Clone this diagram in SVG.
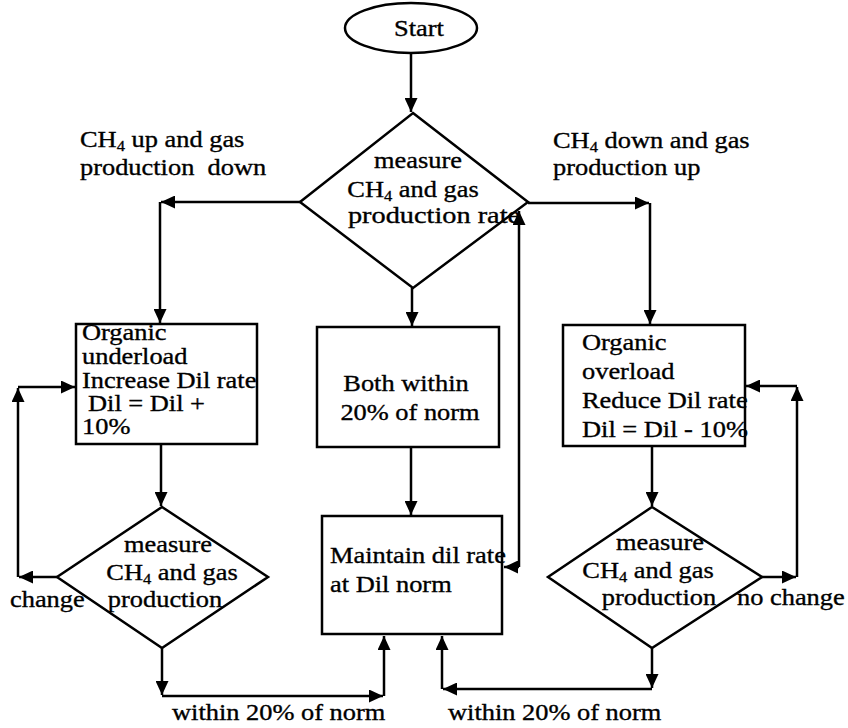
<svg xmlns="http://www.w3.org/2000/svg" width="848" height="728" viewBox="0 0 848 728">
<style>
.s{fill:none;stroke:#000;stroke-width:2.5}
.n{fill:#fff;stroke:#000;stroke-width:2.5}
.t{font-family:"Liberation Serif","Times New Roman",serif;font-size:24px;fill:#000;stroke:#000;stroke-width:0.35}
.m{text-anchor:middle}
.c{stroke:#000;stroke-width:2.5;fill:none;marker-end:url(#ah)}
</style>
<defs>
<marker id="ah" markerUnits="userSpaceOnUse" markerWidth="15" markerHeight="13" refX="14" refY="6.5" orient="auto" viewBox="0 0 15 13">
<path d="M0,0 L14,6.5 L0,13 z" fill="#000"/>
</marker>
</defs>
<g id="connectors">
<path class="c" d="M411,53 V112"/>
<path class="c" d="M300,202 H161"/>
<path class="c" d="M160,202 V323"/>
<path class="c" d="M528,203 H649"/>
<path class="c" d="M650,203 V324"/>
<path class="c" d="M412,288 V326"/>
<path class="c" d="M411,447 V515"/>
<path class="c" d="M519,567 H504"/>
<path class="c" d="M519,567 V211"/>
<path class="c" d="M161,444 V506"/>
<path class="c" d="M57,577 H19"/>
<path class="c" d="M18,577 V388"/>
<path class="c" d="M18,387 H75"/>
<path class="c" d="M162,648 V695"/>
<path class="c" d="M162,696 H383"/>
<path class="c" d="M384,696 V636"/>
<path class="c" d="M652,446 V506"/>
<path class="c" d="M762,577 H796"/>
<path class="c" d="M797,577 V387"/>
<path class="c" d="M797,386 H746"/>
<path class="c" d="M652,648 V688"/>
<path class="c" d="M652,689 H443"/>
<path class="c" d="M442,689 V636"/>
</g>
<g id="start">
<ellipse class="n" cx="411" cy="28" rx="66" ry="25"/>
<text class="t m" transform="translate(419,36) scale(1.1,1)">Start</text>
</g>
<g id="measure1">
<polygon class="n" points="413,113 528,202 413,288 300,202"/>
<text class="t m" transform="translate(418,168) scale(1.1,1)">measure</text>
<text class="t m" transform="translate(413,197) scale(1.1,1)">CH<tspan font-size="15" dy="4">4</tspan><tspan dy="-4"> and gas</tspan></text>
<text class="t m" transform="translate(434,223) scale(1.18,1)">production rate</text>
</g>
<g id="underload">
<rect class="n" x="76" y="324" width="181" height="120"/>
<text class="t" transform="translate(82,340) scale(1.1,1)">Organic</text>
<text class="t" transform="translate(82,364) scale(1.1,1)">underload</text>
<text class="t" transform="translate(82,388) scale(1.1,1)">Increase Dil rate</text>
<text class="t" transform="translate(88,411) scale(1.1,1)">Dil = Dil +</text>
<text class="t" transform="translate(82,434) scale(1.1,1)">10%</text>
</g>
<g id="within">
<rect class="n" x="317" y="327" width="182" height="120"/>
<text class="t m" transform="translate(406,391) scale(1.1,1)">Both within</text>
<text class="t m" transform="translate(410,420) scale(1.1,1)">20% of norm</text>
</g>
<g id="overload">
<rect class="n" x="563" y="325" width="182" height="121"/>
<text class="t" transform="translate(582,350) scale(1.1,1)">Organic</text>
<text class="t" transform="translate(582,379) scale(1.1,1)">overload</text>
<text class="t" transform="translate(582,408) scale(1.1,1)">Reduce Dil rate</text>
<text class="t" transform="translate(582,437) scale(1.1,1)">Dil = Dil - 10%</text>
</g>
<g id="measure2">
<polygon class="n" points="162,507 268,577 162,648 57,577"/>
<text class="t m" transform="translate(168,552) scale(1.1,1)">measure</text>
<text class="t m" transform="translate(172,580) scale(1.1,1)">CH<tspan font-size="15" dy="4">4</tspan><tspan dy="-4"> and gas</tspan></text>
<text class="t m" transform="translate(165,607) scale(1.1,1)">production</text>
</g>
<g id="maintain">
<rect class="n" x="322" y="516" width="180" height="118"/>
<text class="t" transform="translate(330,563) scale(1.1,1)">Maintain dil rate</text>
<text class="t" transform="translate(330,592) scale(1.1,1)">at Dil norm</text>
</g>
<g id="measure3">
<polygon class="n" points="652,507 762,577 652,648 548,577"/>
<text class="t m" transform="translate(660,550) scale(1.1,1)">measure</text>
<text class="t m" transform="translate(648,578) scale(1.1,1)">CH<tspan font-size="15" dy="4">4</tspan><tspan dy="-4"> and gas</tspan></text>
<text class="t m" transform="translate(659,605) scale(1.1,1)">production</text>
</g>
<g id="labels">
<text class="t" transform="translate(80,147) scale(1.1,1)">CH<tspan font-size="15" dy="4">4</tspan><tspan dy="-4"> up and gas</tspan></text>
<text class="t" transform="translate(80,175) scale(1.1,1)" xml:space="preserve">production  down</text>
<text class="t" transform="translate(553,148) scale(1.1,1)">CH<tspan font-size="15" dy="4">4</tspan><tspan dy="-4"> down and gas</tspan></text>
<text class="t" transform="translate(553,175) scale(1.1,1)">production up</text>
<text class="t" transform="translate(10,607) scale(1.1,1)">change</text>
<text class="t" transform="translate(737,605) scale(1.1,1)">no change</text>
<text class="t" transform="translate(172,720) scale(1.1,1)">within 20% of norm</text>
<text class="t" transform="translate(448,720) scale(1.1,1)">within 20% of norm</text>
</g>
</svg>
